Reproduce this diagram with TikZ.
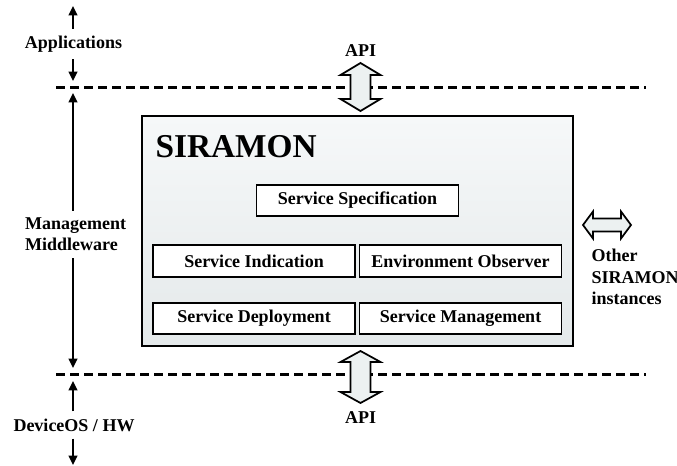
\documentclass[tikz,border=0pt]{standalone}
\usepackage{fontspec}
\setmainfont{Liberation Serif}
\usetikzlibrary{arrows.meta}

\definecolor{boxtop}{RGB}{246,248,249}
\definecolor{boxbot}{RGB}{228,233,234}
\definecolor{arrowfill}{RGB}{236,241,241}

\tikzset{every picture/.style={line width=0.75pt}}

\begin{document}
\begin{tikzpicture}[x=0.75pt,y=0.75pt,yscale=-1,xscale=1,
  lbl/.style={font=\fontsize{13.5}{16}\selectfont\bfseries, inner sep=5pt},
  module/.style={draw, fill=white, line width=1.4pt, minimum width=151.5pt, minimum height=23.5pt, inner sep=0pt, font=\fontsize{13.5}{16}\selectfont\bfseries},
  layer/.style={line width=1.6pt, dash pattern=on 6.6pt off 3.9pt},
  flow/.style={line width=1.5pt, -{Triangle[length=7pt,width=6.5pt]}},
  blockarrow/.style={draw, line width=1.3pt, fill=arrowfill, line join=miter}]
\useasboundingbox (0,0) rectangle (677,466);

%Layer borders
\coordinate (upl) at (56,87.5);
\coordinate (upr) at (646,87.5);
\coordinate (lowl) at (56,374.5);
\coordinate (lowr) at (646,374.5);
\draw[layer] (upl) -- (upr);
\draw[layer] (lowl) -- (lowr);

%SIRAMON box
\node (siramon) [draw, line width=1.8pt, top color=boxtop, bottom color=boxbot, minimum width=323.25pt, minimum height=172.5pt, inner sep=0pt] at (357.5,231) {};
% Text Node
\node (title) [anchor=west, inner sep=0pt, font=\fontsize{25}{30}\selectfont\bfseries] at (155,147) {SIRAMON};

%Modules
\node (spec) [module] at (357.5,200.5) {Service Specification};
\node (ind) [module] at (254,261) {Service Indication};
\node (obs) [module] at (460.5,261) {Environment Observer};
\node (dep) [module] at (254,318.5) {Service Deployment};
\node (mgmt) [module] at (460.5,318.5) {Service Management};

%API arrows
\draw[blockarrow] (360.5,63) -- (380.5,75) -- (370.5,75) -- (370.5,99) -- (380.5,99) -- (360.5,111) -- (340.5,99) -- (350.5,99) -- (350.5,75) -- (340.5,75) -- cycle;
\draw[blockarrow] (360.5,351) -- (380.5,362) -- (370.5,362) -- (370.5,392) -- (380.5,392) -- (360.5,403) -- (340.5,392) -- (350.5,392) -- (350.5,362) -- (340.5,362) -- cycle;
% Text Node
\node (apitop) [lbl, inner sep=0pt] at (360.5,51) {API};
% Text Node
\node (apibot) [lbl, inner sep=0pt] at (360.5,418) {API};

%Other instances
\draw[blockarrow] (583,225) -- (593,211.5) -- (593,218.5) -- (621,218.5) -- (621,211.5) -- (631,225) -- (621,238.5) -- (621,231.5) -- (593,231.5) -- (593,238.5) -- cycle;
% Text Node
\node (others) [lbl, inner sep=0pt, anchor=west, align=left] at (591,277) {Other\\SIRAMON\\instances};

%Layer labels
\node (apps) [lbl] at (73.5,44) {Applications};
\node (mw) [lbl, anchor=west, align=left] at (18,234.5) {Management\\Middleware};
\node (dev) [lbl] at (74,425) {DeviceOS / HW};

\coordinate (top) at (73,6);
\coordinate (upper) at (73,81);
\coordinate (uppertip) at (73,93);
\coordinate (lowertip) at (73,368);
\coordinate (lower) at (73,381);
\coordinate (bot) at (73,465);

\draw[flow] (apps.north -| top) -- (top);
\draw[flow] (apps.south -| top) -- (upper);
\draw[flow] (mw.north -| top) -- (uppertip);
\draw[flow] (mw.south -| top) -- (lowertip);
\draw[flow] (dev.north -| top) -- (lower);
\draw[flow] (dev.south -| top) -- (bot);

\end{tikzpicture}
\end{document}
